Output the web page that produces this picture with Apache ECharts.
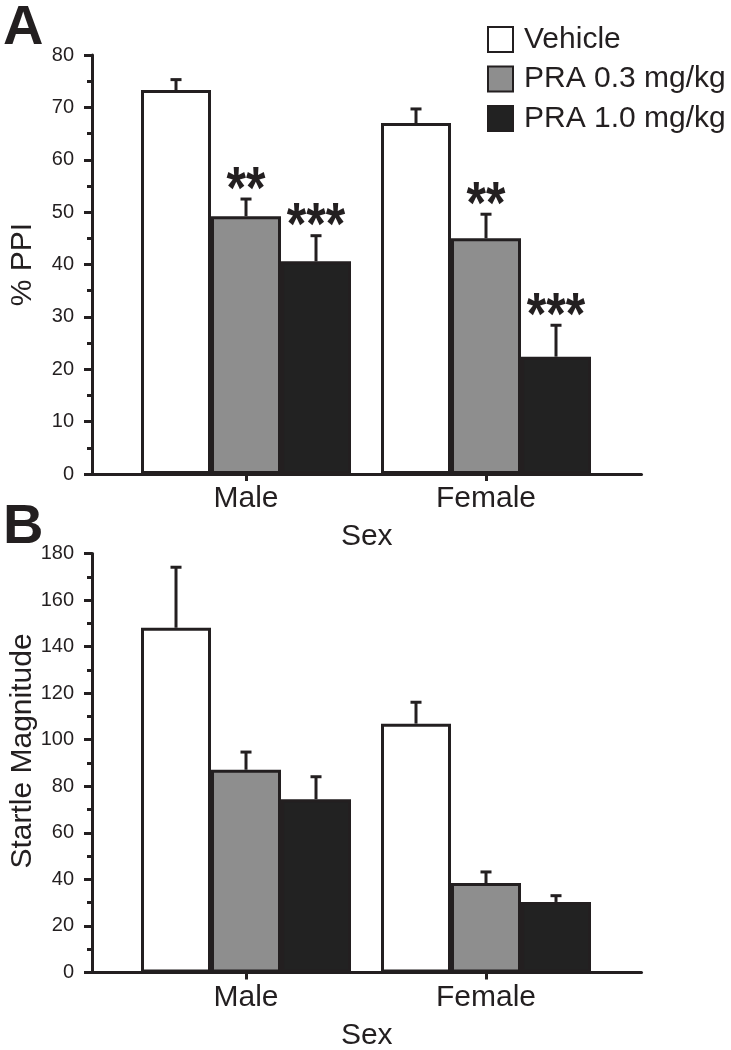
<!DOCTYPE html>
<html><head><meta charset="utf-8">
<script src="https://cdn.jsdelivr.net/npm/echarts@6/dist/echarts.min.js"></script>
<style>html,body{margin:0;padding:0;background:#fff}#c{width:731px;height:1050px}</style>
</head><body><div id="c"></div>
<script>
// ---------- data ----------
const categories = ['Male', 'Female'];
const seriesNames = ['Vehicle', 'PRA 0.3 mg/kg', 'PRA 1.0 mg/kg'];

// Panel A: % PPI
const ppiVehicle = [73.3, 67.0];
const ppiVehicleErr = [2.0, 2.7];
const ppiPra03 = [49.2, 45.0];
const ppiPra03Err = [3.3, 4.6];
const ppiPra10 = [40.6, 22.4];
const ppiPra10Err = [4.9, 6.0];
const ppiVehicleSig = ['', ''];
const ppiPra03Sig = ['**', '**'];
const ppiPra10Sig = ['***', '***'];
const ppiAxis = [0, 80, 10];

// Panel B: Startle magnitude
const startleVehicle = [148.1, 106.9];
const startleVehicleErr = [26.0, 9.2];
const startlePra03 = [87.1, 38.4];
const startlePra03Err = [7.6, 4.8];
const startlePra10 = [74.4, 30.3];
const startlePra10Err = [9.7, 2.7];
const startleAxis = [0, 180, 20];

// ---------- style ----------
const INK = '#231f20';
const FILLS = ['#ffffff', '#8e8e8e', '#222222'];
const FONT = '"Liberation Sans", Arial, Helvetica, sans-serif';
const BIG = 30;
const BAR_W = 70;
const CAP = 5.5;
const X_MIN = 0.3583, X_MAX = 2.6479;
const catPos = categories.map((c, i) => i + 1);

function barSeries(g, k, vals) {
  return {
    type: 'bar', name: seriesNames[k], xAxisIndex: g, yAxisIndex: g,
    data: vals.map((v, i) => [catPos[i], v]),
    barWidth: BAR_W, barGap: '0%',
    itemStyle: { color: FILLS[k], borderColor: INK, borderWidth: 3 },
    emphasis: { disabled: true }, z: 2
  };
}
function errSeries(g, k, vals, errs, sigs) {
  return {
    type: 'custom', xAxisIndex: g, yAxisIndex: g, z: 5,
    data: vals.map((v, i) => [catPos[i], v, errs[i]]),
    renderItem: (params, api) => {
      const pos = api.value(0), v = api.value(1), e = api.value(2);
      const base = api.coord([pos, v]);
      const top = api.coord([pos, v + e]);
      const x = base[0] + (k - 1) * BAR_W;
      const children = [
        { type: 'line', shape: { x1: x, y1: base[1], x2: x, y2: top[1] }, style: { stroke: INK, lineWidth: 3 } },
        { type: 'line', shape: { x1: x - CAP, y1: top[1], x2: x + CAP, y2: top[1] }, style: { stroke: INK, lineWidth: 3 } }
      ];
      const sig = sigs ? sigs[params.dataIndex] : '';
      if (sig) {
        children.push({
          type: 'text', x: x, y: top[1] - 18 + 10, scaleY: 1.2,
          style: { text: sig, fill: INK, fontFamily: FONT, fontWeight: 'bold', fontSize: 50, align: 'center', verticalAlign: 'middle' }
        });
      }
      return { type: 'group', children };
    }
  };
}
function xAxisOf(g) {
  return {
    type: 'value', gridIndex: g, min: X_MIN, max: X_MAX,
    axisLine: { show: true, onZero: false, lineStyle: { color: INK, width: 3 } },
    axisTick: { show: true, customValues: catPos, length: 7, lineStyle: { color: INK, width: 3 } },
    axisLabel: { customValues: catPos, formatter: v => categories[Math.round(v) - 1], margin: 10, fontSize: BIG, color: INK, fontFamily: FONT },
    splitLine: { show: false },
    name: 'Sex', nameLocation: 'middle', nameGap: 48, nameMoveOverlap: false,
    nameTextStyle: { fontSize: BIG, color: INK, fontFamily: FONT }
  };
}
function yAxisOf(g, ax, name, shift) {
  return {
    type: 'value', gridIndex: g, min: ax[0], max: ax[1], interval: ax[2],
    axisLine: { show: true, lineStyle: { color: INK, width: 3 } },
    axisTick: { show: true, length: 8, lineStyle: { color: INK, width: 3 } },
    minorTick: { show: true, splitNumber: 2, length: 5, lineStyle: { color: INK, width: 3 } },
    axisLabel: { fontSize: 20, margin: 18, color: INK, fontFamily: FONT },
    splitLine: { show: false },
    name: name, nameLocation: 'middle', nameGap: 54, nameMoveOverlap: false,
    nameTextStyle: { fontSize: BIG, color: INK, fontFamily: FONT, padding: [0, 0, 0, shift] }
  };
}

const chart = echarts.init(document.getElementById('c'), null, { renderer: 'canvas' });
chart.setOption({
  animation: false,
  backgroundColor: '#ffffff',
  textStyle: { fontFamily: FONT },
  grid: [
    { left: 92, right: 89.5, top: 55, height: 419, containLabel: false, outerBoundsMode: 'none' },
    { left: 92, right: 89.5, top: 553.5, height: 419, containLabel: false, outerBoundsMode: 'none' }
  ],
  legend: {
    data: seriesNames, orient: 'vertical', left: 487, top: 24.5, padding: 0,
    icon: 'rect', itemWidth: 25, itemHeight: 25, itemGap: 9.5,
    itemStyle: { borderWidth: 2, borderColor: INK },
    textStyle: { fontSize: BIG, color: INK, fontFamily: FONT, lineHeight: 30, padding: [0, 0, 0, 6] },
    selectedMode: false
  },
  xAxis: [xAxisOf(0), xAxisOf(1)],
  yAxis: [yAxisOf(0, ppiAxis, '% PPI', 0), yAxisOf(1, startleAxis, 'Startle Magnitude', 24)],
  graphic: [
    { type: 'text', style: { text: 'A', x: 3, y: 29, fill: INK, fontFamily: FONT, fontWeight: 'bold', fontSize: 56, verticalAlign: 'middle' } },
    { type: 'text', style: { text: 'B', x: 3, y: 528, fill: INK, fontFamily: FONT, fontWeight: 'bold', fontSize: 56, verticalAlign: 'middle' } }
  ],
  series: [
    barSeries(0, 0, ppiVehicle), barSeries(0, 1, ppiPra03), barSeries(0, 2, ppiPra10),
    errSeries(0, 0, ppiVehicle, ppiVehicleErr, ppiVehicleSig),
    errSeries(0, 1, ppiPra03, ppiPra03Err, ppiPra03Sig),
    errSeries(0, 2, ppiPra10, ppiPra10Err, ppiPra10Sig),
    barSeries(1, 0, startleVehicle), barSeries(1, 1, startlePra03), barSeries(1, 2, startlePra10),
    errSeries(1, 0, startleVehicle, startleVehicleErr, null),
    errSeries(1, 1, startlePra03, startlePra03Err, null),
    errSeries(1, 2, startlePra10, startlePra10Err, null)
  ]
});
</script>
</body></html>
